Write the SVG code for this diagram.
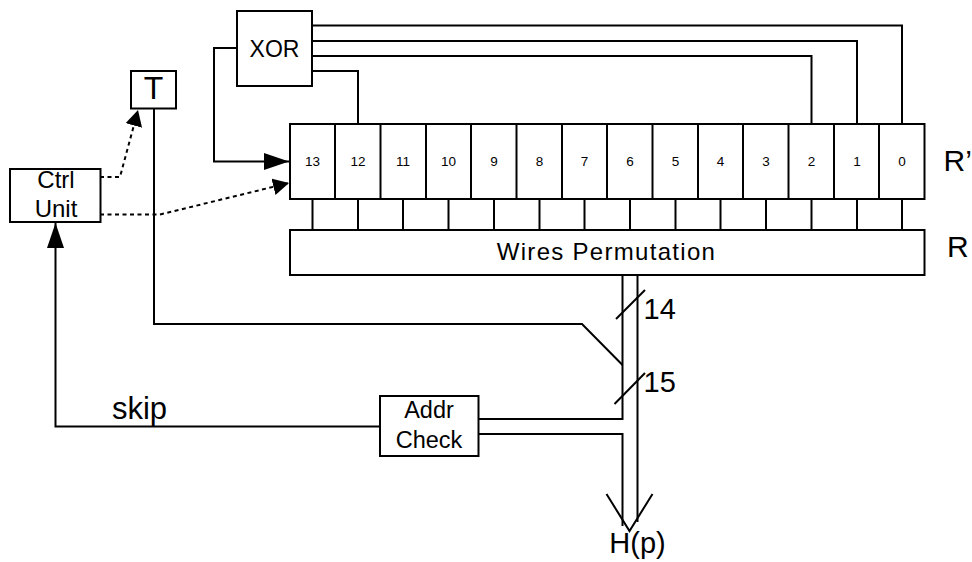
<svg xmlns="http://www.w3.org/2000/svg" width="972" height="562" viewBox="0 0 972 562">
<style>
text{font-family:"Liberation Sans",Arial,sans-serif;fill:#000;text-anchor:middle}
.b{fill:#fff;stroke:#000;stroke-width:2}
.l{fill:none;stroke:#000;stroke-width:2}
.d{fill:none;stroke:#000;stroke-width:2;stroke-dasharray:4 3.500}
.c{font-size:13.500px}
.s{font-size:30px;text-anchor:start}
.n{font-size:29px;text-anchor:start}
</style>
<defs>
<marker id="ah" markerUnits="userSpaceOnUse" markerWidth="26" markerHeight="18" refX="25" refY="8.5" orient="auto"><path d="M0 0L25 8.5L0 17z" fill="#000"/></marker>
<marker id="ad" markerUnits="userSpaceOnUse" markerWidth="18" markerHeight="18" refX="16" refY="8.500" orient="auto"><path d="M0 0L16 8.500L0 17z" fill="#000"/></marker>
</defs>
<g id="connectors">
<path class="l" d="M312 25.500H902V124"/>
<path class="l" d="M312 41H857V124"/>
<path class="l" d="M312 56H811.500V124"/>
<path class="l" d="M312 71H358V124"/>
<path class="l" d="M237 48H214V161.500H289" marker-end="url(#ah)"/>
<path class="l" d="M312.500 199V230M358 199V230M403 199V230M448.500 199V230M494 199V230M539.500 199V230M584.500 199V230M630 199V230M675.500 199V230M720.500 199V230M766 199V230M811.500 199V230M857 199V230M902 199V230"/>
<path class="d" d="M100 177H120L138 110" marker-end="url(#ad)"/>
<path class="d" d="M100 214.500H160L289 183" marker-end="url(#ad)"/>
<path class="l" d="M154 108V324H582L622.500 365"/>
<path class="l" d="M622.500 275V419H478"/>
<path class="l" d="M478 434H622.500V526"/>
<path class="l" d="M637.500 275V522"/>
<path class="l" d="M606.500 494L629.500 531L652.500 494"/>
<path class="l" d="M616 319L645 290"/>
<path class="l" d="M614.500 404L645 373"/>
<path class="l" d="M380 426.500H55.500V223" marker-end="url(#ah)"/>
</g>
<g id="xor"><rect class="b" x="237" y="11" width="75" height="75"/><text x="274.500" y="57" font-size="23">XOR</text></g>
<g id="t"><rect class="b" x="131" y="71" width="45" height="37.500"/><text x="153.500" y="99" font-size="32">T</text></g>
<g id="ctrl"><rect class="b" x="10" y="169" width="90.500" height="53"/><text x="56" y="188" font-size="24">Ctrl</text><text x="56" y="217" font-size="24">Unit</text></g>
<g id="addr"><rect class="b" x="380" y="396" width="98.500" height="60"/><text x="429" y="418" font-size="23.500">Addr</text><text x="429" y="448" font-size="23.500">Check</text></g>
<g id="register">
<rect class="b" x="290" y="124" width="634.500" height="75"/>
<path class="l" d="M335 124V199M380.500 124V199M426 124V199M471 124V199M516.500 124V199M562 124V199M607 124V199M652.500 124V199M698 124V199M743 124V199M788.500 124V199M834 124V199M879 124V199"/>
<text class="c" x="312.500" y="166">13</text><text class="c" x="358" y="166">12</text><text class="c" x="403" y="166">11</text><text class="c" x="448.500" y="166">10</text><text class="c" x="494" y="166">9</text><text class="c" x="539.500" y="166">8</text><text class="c" x="584.500" y="166">7</text><text class="c" x="630" y="166">6</text><text class="c" x="675.500" y="166">5</text><text class="c" x="720.500" y="166">4</text><text class="c" x="766" y="166">3</text><text class="c" x="811.500" y="166">2</text><text class="c" x="857" y="166">1</text><text class="c" x="902" y="166">0</text>
</g>
<g id="permutation"><rect class="b" x="290" y="230" width="634.500" height="45"/><text x="606.500" y="260" font-size="24" letter-spacing="1.300">Wires Permutation</text></g>
<text class="s" x="943.500" y="171">R’</text>
<text class="s" x="947" y="257">R</text>
<text class="n" x="643.500" y="319">14</text>
<text class="n" x="643.500" y="392">15</text>
<text x="139.500" y="419" font-size="31">skip</text>
<text x="637.500" y="553" font-size="29">H(p)</text>
</svg>
